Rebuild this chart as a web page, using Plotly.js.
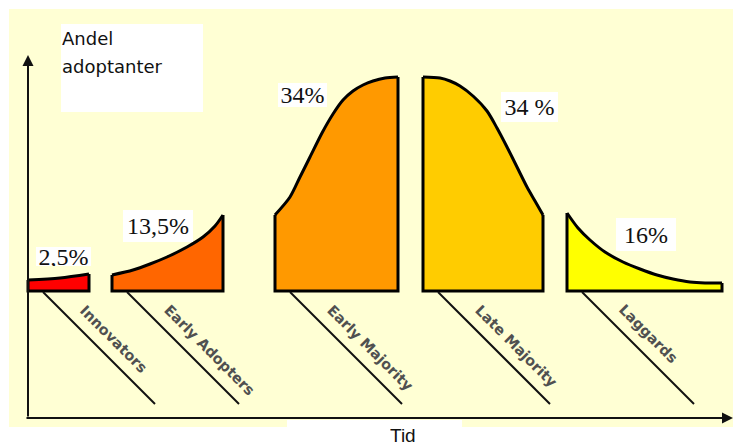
<!DOCTYPE html>
<html>
<head>
<meta charset="utf-8">
<script src="https://cdn.plot.ly/plotly-3.0.1.min.js"></script>
<style>
  html, body { margin: 0; padding: 0; background: #ffffff; }
  #chart { width: 733px; height: 445px; }
</style>
</head>
<body>
<div id="chart"></div>
<script>
// ---- data ----
const categories = ['Innovators', 'Early Adopters', 'Early Majority', 'Late Majority', 'Laggards'];
const shareLabels = ['2,5%', '13,5%', '34%', '34 %', '16%'];

// time position (x) and share of adopters (curve height) for each segment
const innovatorsX      = [28, 60, 89];
const innovatorsY      = [11, 13, 17];
const earlyAdoptersX   = [112, 133, 150, 167, 187, 203, 215, 223];
const earlyAdoptersY   = [16, 21, 27, 34, 44, 54, 65, 76];
const earlyMajorityX   = [275, 290, 300, 310, 322, 333, 343, 353, 363, 373, 385, 398];
const earlyMajorityY   = [76, 94, 114, 134, 158, 177, 191, 200, 206, 210, 213, 214];
const lateMajorityX    = [423, 440, 450, 460, 473, 487, 497, 507, 517, 527, 535, 543];
const lateMajorityY    = [214, 213, 210, 205, 195, 180, 163, 144, 124, 104, 90, 76];
const laggardsX        = [567, 578, 590, 605, 623, 640, 657, 673, 690, 705, 722];
const laggardsY        = [78, 63, 51, 39, 29, 22, 16, 12, 9, 8, 8];

const segX = [innovatorsX, earlyAdoptersX, earlyMajorityX, lateMajorityX, laggardsX];
const segY = [innovatorsY, earlyAdoptersY, earlyMajorityY, lateMajorityY, laggardsY];

// ---- styles ----
const fillColors = ['#FF0000', '#FF6600', '#FF9900', '#FFCC00', '#FFFF00'];
const bgYellow = '#FFFFD4';

const traces = [];
segX.forEach((xs, i) => {
  const ys = segY[i];
  // filled area under the curve (baseline = 0)
  traces.push({
    type: 'scatter', mode: 'lines', x: xs, y: ys,
    fill: 'tozeroy', fillcolor: fillColors[i],
    line: { color: '#000000', width: 3, shape: 'spline', smoothing: 0.8 },
    hoverinfo: 'skip', showlegend: false, name: categories[i]
  });
  // straight edges: right side, baseline, left side
  const last = xs.length - 1;
  traces.push({
    type: 'scatter', mode: 'lines',
    x: [xs[last], xs[last], xs[0], xs[0]],
    y: [ys[last], 0, 0, ys[0]],
    line: { color: '#000000', width: 3 },
    hoverinfo: 'skip', showlegend: false
  });
});

// leader lines under category names
const LEAD_OFF = 15, LEAD_LEN = 112;
segX.forEach((xs, i) => {
  const sx = xs[0] + LEAD_OFF;
  traces.push({
    type: 'scatter', mode: 'lines',
    x: [sx, sx + LEAD_LEN], y: [-1, -1 - LEAD_LEN],
    line: { color: '#111111', width: 2 },
    hoverinfo: 'skip', showlegend: false
  });
});

const annotations = [];
// category names along the leader lines
segX.forEach((xs, i) => {
  const sx = xs[0] + LEAD_OFF;
  annotations.push({
    x: sx + 31, y: -8, xref: 'x', yref: 'y',
    xanchor: 'left', yanchor: 'top',
    text: categories[i], textangle: 45, showarrow: false,
    font: { family: 'DejaVu Sans', size: 14.5, color: '#505050', weight: 'bold' }
  });
});

// share labels in white boxes
const shareBox = [
  { x: 63,  y: 35,  w: 55, h: 19 },
  { x: 158, y: 65,  w: 70, h: 32 },
  { x: 302, y: 196, w: 49, h: 24 },
  { x: 529, y: 184, w: 57, h: 30 },
  { x: 646, y: 57,  w: 60, h: 33 }
];
shareLabels.forEach((t, i) => {
  const b = shareBox[i];
  annotations.push({
    x: b.x, y: b.y, xref: 'x', yref: 'y', xanchor: 'center', yanchor: 'middle',
    text: t, showarrow: false, bgcolor: '#ffffff', borderpad: 0, borderwidth: 0,
    width: b.w, height: b.h,
    font: { family: 'Liberation Serif', size: 24, color: '#111111' }
  });
});

// axis arrows
annotations.push({
  x: 28, y: 236, ax: 28, ay: -127, xref: 'x', yref: 'y', axref: 'x', ayref: 'y',
  text: '', showarrow: true, arrowhead: 2, arrowsize: 1.1, arrowwidth: 2, arrowcolor: '#111111'
});
annotations.push({
  x: 733, y: -127, ax: 25, ay: -127, xref: 'x', yref: 'y', axref: 'x', ayref: 'y',
  text: '', showarrow: true, arrowhead: 2, arrowsize: 1.1, arrowwidth: 2, arrowcolor: '#111111'
});

// axis titles
annotations.push({
  x: 60, y: 253, xref: 'x', yref: 'y', xanchor: 'left', yanchor: 'middle',
  text: 'Andel', showarrow: false,
  font: { family: 'DejaVu Sans', size: 18, color: '#111111' }
});
annotations.push({
  x: 60, y: 225, xref: 'x', yref: 'y', xanchor: 'left', yanchor: 'middle',
  text: 'adoptanter', showarrow: false,
  font: { family: 'DejaVu Sans', size: 18, color: '#111111' }
});
annotations.push({
  x: 403, y: -144, xref: 'x', yref: 'y', xanchor: 'center', yanchor: 'middle',
  text: 'Tid', showarrow: false, height: 20, borderpad: 0,
  font: { family: 'Liberation Sans', size: 19, color: '#111111' }
});

const W = 733, H = 445;
const shapes = [
  { type: 'rect', xref: 'paper', yref: 'paper', layer: 'below',
    x0: 9 / W, x1: 1, y0: 1 - 427 / H, y1: 1 - 9 / H,
    fillcolor: bgYellow, line: { width: 0 } },
  { type: 'rect', xref: 'paper', yref: 'paper', layer: 'below',
    x0: 61 / W, x1: 203 / W, y0: 1 - 112 / H, y1: 1 - 24 / H,
    fillcolor: '#ffffff', line: { width: 0 } },
  { type: 'rect', xref: 'paper', yref: 'paper', layer: 'below',
    x0: 287 / W, x1: 462 / W, y0: 0, y1: 1 - 420 / H,
    fillcolor: '#ffffff', line: { width: 0 } }
];

const layout = {
  width: W, height: H,
  margin: { l: 0, r: 0, t: 0, b: 0, pad: 0 },
  paper_bgcolor: '#ffffff', plot_bgcolor: 'rgba(0,0,0,0)',
  xaxis: { range: [0, 733], visible: false, fixedrange: true },
  yaxis: { range: [-154, 291], visible: false, fixedrange: true },
  showlegend: false, hovermode: false,
  shapes: shapes, annotations: annotations
};

Plotly.newPlot('chart', traces, layout, { staticPlot: true, displayModeBar: false });
</script>
</body>
</html>
